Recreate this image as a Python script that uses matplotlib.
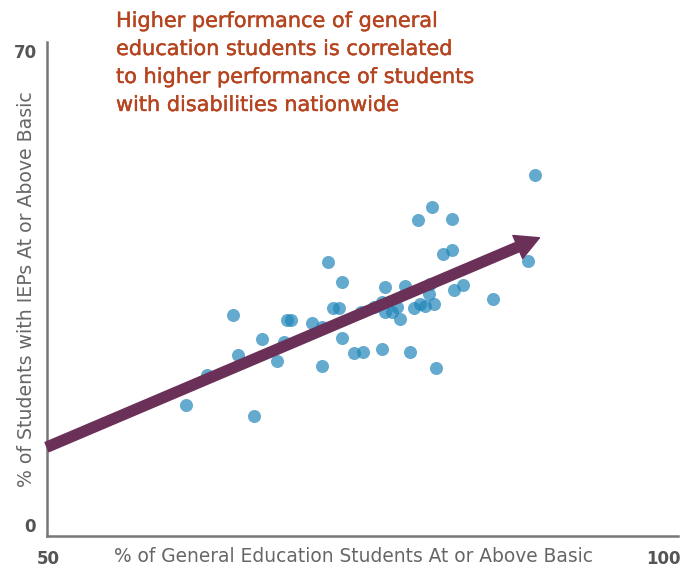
import numpy as np
import matplotlib.pyplot as plt
import matplotlib.patheffects as pe

# Valores (% ed. geral, % alunos com IEP)
geral = [61.30, 62.98, 65.10, 65.50, 66.80, 67.46, 68.72, 69.27, 69.49, 69.81,
         71.52, 72.33, 72.33, 72.79, 73.23, 73.68, 73.96, 73.96, 74.96, 75.67,
         75.50, 76.53, 77.21, 77.21, 77.42, 77.48, 78.02, 78.43, 78.70, 79.11,
         79.51, 79.84, 80.11, 80.33, 80.73, 81.00, 81.08, 81.28, 81.41, 81.63,
         82.14, 82.90, 82.90, 83.03, 83.76, 86.24, 89.05, 89.63]
iep = [18.02, 22.45, 31.35, 25.36, 16.39, 27.81, 24.47, 27.37, 30.57, 30.57,
       30.17, 29.49, 23.82, 39.14, 32.39, 32.30, 36.23, 27.87, 25.65, 25.89,
       31.68, 32.54, 33.27, 26.29, 35.40, 31.68, 31.68, 32.54, 30.72, 35.52,
       25.89, 32.34, 45.30, 32.93, 32.64, 34.37, 35.89, 47.22, 32.89, 23.53,
       40.27, 40.95, 45.44, 35.05, 35.70, 33.67, 39.24, 52.03]

# seta de tendência
seta_inicio = (50.0, 11.8)
seta_fim = (90.0, 42.7)

titulo = ("Higher performance of general\n"
          "education students is correlated\n"
          "to higher performance of students\n"
          "with disabilities nationwide")

cinza = '#666666'

fig = plt.figure(figsize=(6.94, 5.67), dpi=100)
ax = fig.add_axes([47 / 694, 31 / 567, 631 / 694, 494 / 567])

ax.scatter(geral, iep, s=88, color='#2187BA', alpha=0.7, linewidths=0, zorder=2)

ax.annotate('', xy=seta_fim, xytext=seta_inicio,
            arrowprops=dict(arrowstyle='simple,head_length=17,head_width=18,tail_width=7.2',
                            mutation_scale=1, color='#6B3058', shrinkA=0, shrinkB=0),
            zorder=3)

ax.set_xlim(50, 101.25)
ax.set_ylim(-1.33, 71.6)
ax.set_xticks([])
ax.set_yticks([])
for lado in ['top', 'right']:
    ax.spines[lado].set_visible(False)
for lado in ['left', 'bottom']:
    ax.spines[lado].set_color('#777777')
    ax.spines[lado].set_linewidth(1.8)

# rótulos dos eixos
fig.text(48 / 694, 1 - 559 / 567, '50', ha='center', va='center', fontsize=12,
         fontweight='bold', color='#555555')
fig.text(663 / 694, 1 - 559 / 567, '100', ha='center', va='center', fontsize=12,
         fontweight='bold', color='#555555')
fig.text(25 / 694, 1 - 53 / 567, '70', ha='center', va='center', fontsize=12,
         fontweight='bold', color='#555555')
fig.text(30 / 694, 1 - 527 / 567, '0', ha='center', va='center', fontsize=12,
         fontweight='bold', color='#555555')

fig.text(354 / 694, 1 - 557 / 567, '% of General Education Students At or Above Basic',
         ha='center', va='center', fontsize=13.4, color=cinza)
fig.text(27 / 694, 1 - 289 / 567, '% of Students with IEPs At or Above Basic',
         ha='center', va='center', rotation=90, fontsize=13.6, color=cinza)

t = fig.text(116 / 694, 1 - 11 / 567, titulo, ha='left', va='top', fontsize=15,
             color='#B5441F', linespacing=1.5)
t.set_path_effects([pe.withStroke(linewidth=0.3, foreground='#B5441F')])

fig.savefig('out.png', dpi=100)
